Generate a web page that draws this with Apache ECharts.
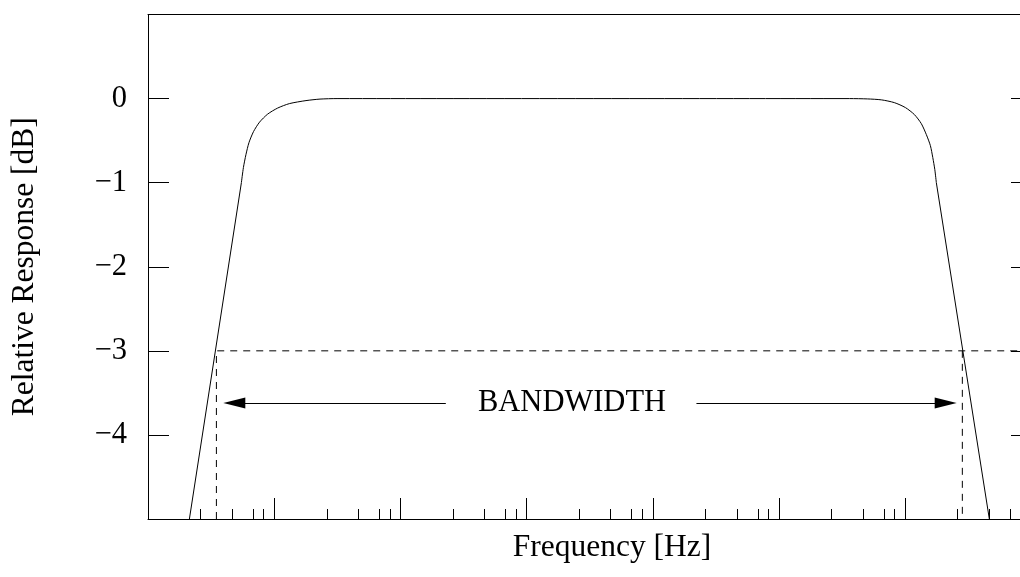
<!DOCTYPE html>
<html>
<head>
<meta charset="utf-8">
<script src="https://cdn.jsdelivr.net/npm/echarts@6/dist/echarts.min.js"></script>
<style>
html,body{margin:0;padding:0;background:#fff;}
#chart{width:1020px;height:577px;}
</style>
</head>
<body>
<div id="chart"></div>
<script>
// ---- data (x in decade units from the left edge of the frequency axis, y in dB) ----
const xMajorTicks = [0, 1, 2, 3, 4, 5, 6];
const xMinorOffsets = [5/12, 8/12, 10/12, 11/12];
const yTicks = [0, -1, -2, -3, -4];

const leftSkirt = [[0.328, -5], [0.740, -1]];
const passband = [
  [0.740, -1], [0.756, -0.821], [0.776, -0.667], [0.800, -0.524], [0.836, -0.393],
  [0.884, -0.280], [0.948, -0.185], [1.027, -0.113], [1.120, -0.060], [1.252, -0.024],
  [1.363, -0.006], [1.498, 0], [5.558, 0], [5.700, -0.004], [5.811, -0.015],
  [5.914, -0.048], [6.002, -0.107], [6.073, -0.190], [6.128, -0.298], [6.168, -0.429],
  [6.200, -0.560], [6.219, -0.702], [6.235, -0.845], [6.247, -1]
];
const rightSkirt = [[6.247, -1], [6.667, -5]];

const cutoffDb = -3;
const bandEdges = [0.542, 6.453];
const arrowDb = -3.62;
const leftArrow = [2.360, 0.684];   // from -> to (arrow head at "to")
const rightArrow = [4.346, 6.321];
const bandLabel = 'BANDWIDTH';
const bandLabelX = 3.36;

const xMin = 0, xMax = 6.91, yMin = -5, yMax = 1;

// ---- build ----
const xMinorTicks = [];
xMajorTicks.forEach(function (m) {
  xMinorOffsets.forEach(function (f) { if (m + f < xMax) xMinorTicks.push(m + f); });
});

const FONT = '"Liberation Serif", "Times New Roman", serif';
const black = '#000';
const plainLine = { color: black, width: 1 };
const dashLine = { color: black, width: 1, type: [7, 6] };

function lineSeries(data, style, smooth) {
  return {
    type: 'line', data: data, symbol: 'none', smooth: smooth || false,
    lineStyle: style, silent: true, animation: false, clip: true,
    xAxisIndex: 0, yAxisIndex: 0
  };
}

const arrowPath = 'path://M5.5,0 L11,22 L0,22 Z';

const option = {
  animation: false,
  backgroundColor: '#fff',
  grid: { left: 148, right: 0, top: 14.5, bottom: 58, show: false, containLabel: false },
  xAxis: [
    {
      type: 'value', min: xMin, max: xMax, position: 'bottom',
      axisLine: { show: true, onZero: false, lineStyle: { color: black, width: 1 } },
      axisTick: { show: true, inside: true, length: 21, customValues: xMajorTicks,
        lineStyle: { color: black, width: 1 } },
      axisLabel: { show: false },
      splitLine: { show: false },
      name: 'Frequency [Hz]', nameLocation: 'middle', nameGap: 13,
      nameTextStyle: { fontFamily: FONT, fontSize: 31.5, color: black, verticalAlign: 'top',
        padding: [0, 0, 0, 56] }
    },
    {
      type: 'value', min: xMin, max: xMax, position: 'bottom',
      axisLine: { show: false, onZero: false },
      axisTick: { show: true, inside: true, length: 10, customValues: xMinorTicks,
        lineStyle: { color: black, width: 1 } },
      axisLabel: { show: false },
      splitLine: { show: false }
    },
    {
      type: 'value', min: xMin, max: xMax, position: 'top',
      axisLine: { show: true, onZero: false, lineStyle: { color: black, width: 1 } },
      axisTick: { show: false },
      axisLabel: { show: false },
      splitLine: { show: false }
    }
  ],
  yAxis: [
    {
      type: 'value', min: yMin, max: yMax, interval: 1, position: 'left',
      axisLine: { show: true, onZero: false, lineStyle: { color: black, width: 1 } },
      axisTick: { show: true, inside: true, length: 21, customValues: yTicks,
        lineStyle: { color: black, width: 1 } },
      axisLabel: {
        show: true, margin: 21, fontFamily: FONT, fontSize: 30.5, color: black,
        customValues: yTicks,
        formatter: function (v) { return v < 0 ? '\u2212' + Math.abs(v) : String(v); }
      },
      splitLine: { show: false },
      name: 'Relative Response [dB]', nameLocation: 'middle', nameGap: 107, nameRotate: 90,
      nameTextStyle: { fontFamily: FONT, fontSize: 31.5, color: black }
    },
    {
      type: 'value', min: yMin, max: yMax, interval: 1, position: 'right', offset: 12,
      axisLine: { show: false, onZero: false },
      axisTick: { show: true, inside: true, length: 21, customValues: yTicks,
        lineStyle: { color: black, width: 1 } },
      axisLabel: { show: false },
      splitLine: { show: false }
    }
  ],
  series: [
    lineSeries(leftSkirt, plainLine),
    lineSeries(passband, plainLine, 0.25),
    lineSeries(rightSkirt, plainLine),
    lineSeries([[bandEdges[0], yMin], [bandEdges[0], cutoffDb], [xMax, cutoffDb]], dashLine),
    lineSeries([[bandEdges[1], cutoffDb], [bandEdges[1], yMin]], dashLine),
    {
      type: 'scatter', xAxisIndex: 0, yAxisIndex: 0, silent: true, animation: false,
      symbolSize: 0,
      itemStyle: { opacity: 1, color: black },
      data: [[bandLabelX, arrowDb]],
      label: { show: true, position: 'inside', formatter: bandLabel, opacity: 1,
        fontFamily: FONT, fontSize: 30.5, color: black, textBorderWidth: 0 },
      markLine: {
        silent: true, animation: false,
        symbol: ['none', arrowPath], symbolSize: 22, symbolKeepAspect: true,
        lineStyle: { color: black, width: 1, type: 'solid', opacity: 1 },
        itemStyle: { color: black, opacity: 1 },
        label: { show: false },
        emphasis: { disabled: true },
        data: [
          [{ coord: [leftArrow[0], arrowDb] }, { coord: [leftArrow[1], arrowDb] }],
          [{ coord: [rightArrow[0], arrowDb] }, { coord: [rightArrow[1], arrowDb] }]
        ]
      }
    }
  ]
};

const chart = echarts.init(document.getElementById('chart'), null, { renderer: 'canvas' });
chart.setOption(option);
</script>
</body>
</html>
